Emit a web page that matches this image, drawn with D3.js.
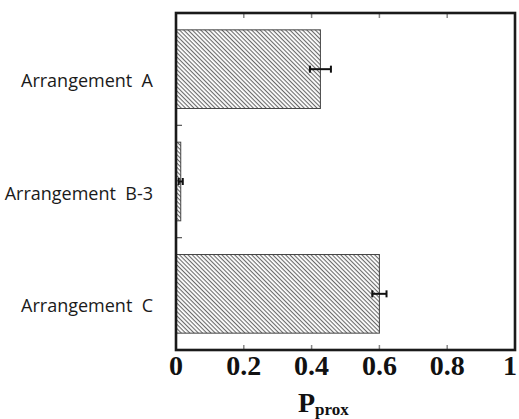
<!DOCTYPE html>
<meta charset="utf-8">
<style>
body { margin: 0; background: #fff; }
.cat { font: 18px "Open Sans", Lato, sans-serif; fill: #1a1a1a; }
.xlab { font: bold 28px "Liberation Serif", "Times New Roman", serif; fill: #111; }
</style>
<body>
<script src="https://cdnjs.cloudflare.com/ajax/libs/d3/7.8.5/d3.min.js"></script>
<script>
// data
var categories = ["Arrangement  A", "Arrangement  B-3", "Arrangement  C"];
var values = [0.426, 0.014, 0.600];
var errors = [0.031, 0.006, 0.021];
var xTicks = [0, 0.2, 0.4, 0.6, 0.8, 1];

var W = 519, H = 419;
var margin = {top: 13, right: 4, bottom: 69, left: 176},
    width = W - margin.left - margin.right,
    height = H - margin.top - margin.bottom;

var svg = d3.select("body").append("svg")
    .attr("width", W)
    .attr("height", H);

// hatch pattern (lines running top-left to bottom-right)
var defs = svg.append("defs");
var pat = defs.append("pattern")
    .attr("id", "hatch")
    .attr("patternUnits", "userSpaceOnUse")
    .attr("width", 3).attr("height", 3)
    .attr("patternTransform", "rotate(45)");
pat.append("rect").attr("width", 3).attr("height", 3).attr("fill", "#fff");
pat.append("line")
    .attr("x1", 0).attr("y1", 0).attr("x2", 3).attr("y2", 0)
    .attr("stroke", "#6a6a6a").attr("stroke-width", 2.2);

var g = svg.append("g")
    .attr("transform", "translate(" + margin.left + "," + margin.top + ")");

var x = d3.scaleLinear().domain([0, 1]).range([0, width]);
var y = d3.scaleBand().domain(categories).range([0, height])
    .paddingInner(0.3).paddingOuter(0.15);

// bars
g.selectAll(".bar")
    .data(categories)
  .enter().append("rect")
    .attr("class", "bar")
    .attr("x", 0)
    .attr("y", function(d) { return y(d); })
    .attr("width", function(d, i) { return x(values[i]); })
    .attr("height", y.bandwidth())
    .attr("fill", "url(#hatch)")
    .attr("stroke", "#444")
    .attr("stroke-width", 1);

// error bars
var eb = g.selectAll(".err")
    .data(categories)
  .enter().append("g")
    .attr("class", "err")
    .attr("transform", function(d) { return "translate(0," + (y(d) + y.bandwidth() / 2) + ")"; });
eb.append("line")
    .attr("x1", function(d, i) { return x(values[i] - errors[i]); })
    .attr("x2", function(d, i) { return x(values[i] + errors[i]); })
    .attr("stroke", "#111").attr("stroke-width", 2);
eb.append("line")
    .attr("x1", function(d, i) { return x(values[i] - errors[i]); })
    .attr("x2", function(d, i) { return x(values[i] - errors[i]); })
    .attr("y1", -3.5).attr("y2", 3.5)
    .attr("stroke", "#111").attr("stroke-width", 2);
eb.append("line")
    .attr("x1", function(d, i) { return x(values[i] + errors[i]); })
    .attr("x2", function(d, i) { return x(values[i] + errors[i]); })
    .attr("y1", -3.5).attr("y2", 3.5)
    .attr("stroke", "#111").attr("stroke-width", 2);

// inner ticks on top and bottom
var inner = xTicks.slice(1, -1);
g.selectAll(".tb").data(inner).enter().append("line")
    .attr("x1", function(d) { return x(d); }).attr("x2", function(d) { return x(d); })
    .attr("y1", height).attr("y2", height - 5)
    .attr("stroke", "#888").attr("stroke-width", 1.5);
g.selectAll(".tt").data(inner).enter().append("line")
    .attr("x1", function(d) { return x(d); }).attr("x2", function(d) { return x(d); })
    .attr("y1", 0).attr("y2", 5)
    .attr("stroke", "#888").attr("stroke-width", 1.5);

// y ticks between categories
var bounds = categories.slice(1).map(function(d) { return y(d) - y.step() * y.paddingInner() / 2; });
g.selectAll(".ty").data(bounds).enter().append("line")
    .attr("x1", 0).attr("x2", 6)
    .attr("y1", function(d) { return d; }).attr("y2", function(d) { return d; })
    .attr("stroke", "#555").attr("stroke-width", 1.2);

// frame
g.append("rect")
    .attr("width", width).attr("height", height)
    .attr("fill", "none")
    .attr("stroke", "#1a1a1a").attr("stroke-width", 2.6);

// x tick labels
g.selectAll(".xt").data(xTicks).enter().append("text")
    .attr("class", "xlab")
    .attr("x", function(d, i) { return i === xTicks.length - 1 ? x(d) + 2 : x(d); })
    .attr("y", height + 25)
    .attr("text-anchor", function(d, i) { return i === xTicks.length - 1 ? "end" : "middle"; })
    .text(function(d) { return d3.format("")(d); });

// category labels
g.selectAll(".cat").data(categories).enter().append("text")
    .attr("class", "cat")
    .attr("x", -23)
    .attr("y", function(d) { return y(d) + y.bandwidth() / 2 + 18; })
    .attr("text-anchor", "end")
    .attr("xml:space", "preserve")
    .style("white-space", "pre")
    .text(function(d) { return d; });

// axis title
var t = g.append("text")
    .attr("class", "xlab")
    .attr("x", 122)
    .attr("y", height + 62);
t.append("tspan").text("P");
t.append("tspan").attr("dy", 3).style("font-size", "17px").text("prox");
</script>
</body>
